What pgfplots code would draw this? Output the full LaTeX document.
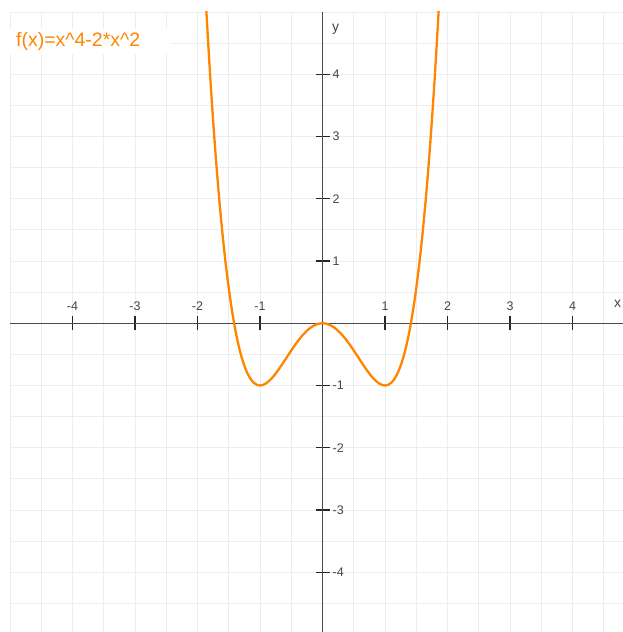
\documentclass[border=0pt]{standalone}
\usepackage{fontspec}
\setmainfont{Liberation Sans}
\usepackage{pgfplots}
\pgfplotsset{compat=1.18}
\usepackage{pgfplotstable}

\definecolor{curve}{HTML}{FF8500}
\definecolor{gridc}{HTML}{EDEDED}
\definecolor{labc}{HTML}{444444}
\definecolor{axc}{HTML}{4A4A4A}

% sampled values of f(x) = x^4 - 2x^2
\pgfplotstableread{
x y
-1.90 5.8121
-1.85 4.8685
-1.80 4.0176
-1.75 3.2539
-1.70 2.5721
-1.65 1.9670
-1.60 1.4336
-1.55 0.9670
-1.50 0.5625
-1.45 0.2155
-1.40 -0.0784
-1.35 -0.3235
-1.30 -0.5239
-1.25 -0.6836
-1.20 -0.8064
-1.15 -0.8960
-1.10 -0.9559
-1.05 -0.9895
-1.00 -1.0000
-0.95 -0.9905
-0.90 -0.9639
-0.85 -0.9230
-0.80 -0.8704
-0.75 -0.8086
-0.70 -0.7399
-0.65 -0.6665
-0.60 -0.5904
-0.55 -0.5135
-0.50 -0.4375
-0.45 -0.3640
-0.40 -0.2944
-0.35 -0.2300
-0.30 -0.1719
-0.25 -0.1211
-0.20 -0.0784
-0.15 -0.0445
-0.10 -0.0199
-0.05 -0.0050
0.00 0.0000
0.05 -0.0050
0.10 -0.0199
0.15 -0.0445
0.20 -0.0784
0.25 -0.1211
0.30 -0.1719
0.35 -0.2300
0.40 -0.2944
0.45 -0.3640
0.50 -0.4375
0.55 -0.5135
0.60 -0.5904
0.65 -0.6665
0.70 -0.7399
0.75 -0.8086
0.80 -0.8704
0.85 -0.9230
0.90 -0.9639
0.95 -0.9905
1.00 -1.0000
1.05 -0.9895
1.10 -0.9559
1.15 -0.8960
1.20 -0.8064
1.25 -0.6836
1.30 -0.5239
1.35 -0.3235
1.40 -0.0784
1.45 0.2155
1.50 0.5625
1.55 0.9670
1.60 1.4336
1.65 1.9670
1.70 2.5721
1.75 3.2539
1.80 4.0176
1.85 4.8685
1.90 5.8121
}\quartic

\begin{document}
\begin{tikzpicture}
\path[use as bounding box] (0,0) rectangle (623pt,632pt);
\begin{axis}[
  at={(10pt,0pt)}, anchor=south west,
  scale only axis, width=613pt, height=620pt,
  xmin=-5, xmax=4.808, ymin=-4.96, ymax=5,
  axis lines=middle,
  axis line style={-, axc, line width=1.2pt},
  xtick={-4,-3,-2,-1,1,2,3,4},
  ytick={-4,-3,-2,-1,1,2,3,4},
  minor xtick={-5,-4.5,...,4.5},
  minor ytick={-4.5,-4,...,5},
  grid=minor,
  minor grid style={gridc, line width=0.8pt},
  minor tick length=0pt,
  tick align=center,
  major tick length=14pt,
  major tick style={black!85, line width=1.1pt},
  /pgf/number format/assume math mode=true,
  tick label style={font=\fontsize{12.5}{13}\selectfont, text=labc, inner sep=0pt},
  xticklabel style={anchor=base, yshift=19.5pt},
  yticklabel style={anchor=west, xshift=17pt},
  clip=true,
]
\addplot[curve, line width=2.3pt, smooth] table[x=x, y=y] {\quartic};
\node[text=labc, font=\fontsize{14}{15}\selectfont] at (axis cs:4.72,0.305) {x};
\node[text=labc, font=\fontsize{14}{15}\selectfont] at (axis cs:0.21,4.72) {y};
\node[fill=white, anchor=west, inner xsep=6pt, inner ysep=0pt, minimum height=25pt,
      text width=150pt, align=left, text=curve,
      font=\fontsize{19.5}{20}\selectfont] at (axis cs:-5,4.52) {f(x)=x\^{}4-2*x\^{}2};
\end{axis}
\end{tikzpicture}
\end{document}
